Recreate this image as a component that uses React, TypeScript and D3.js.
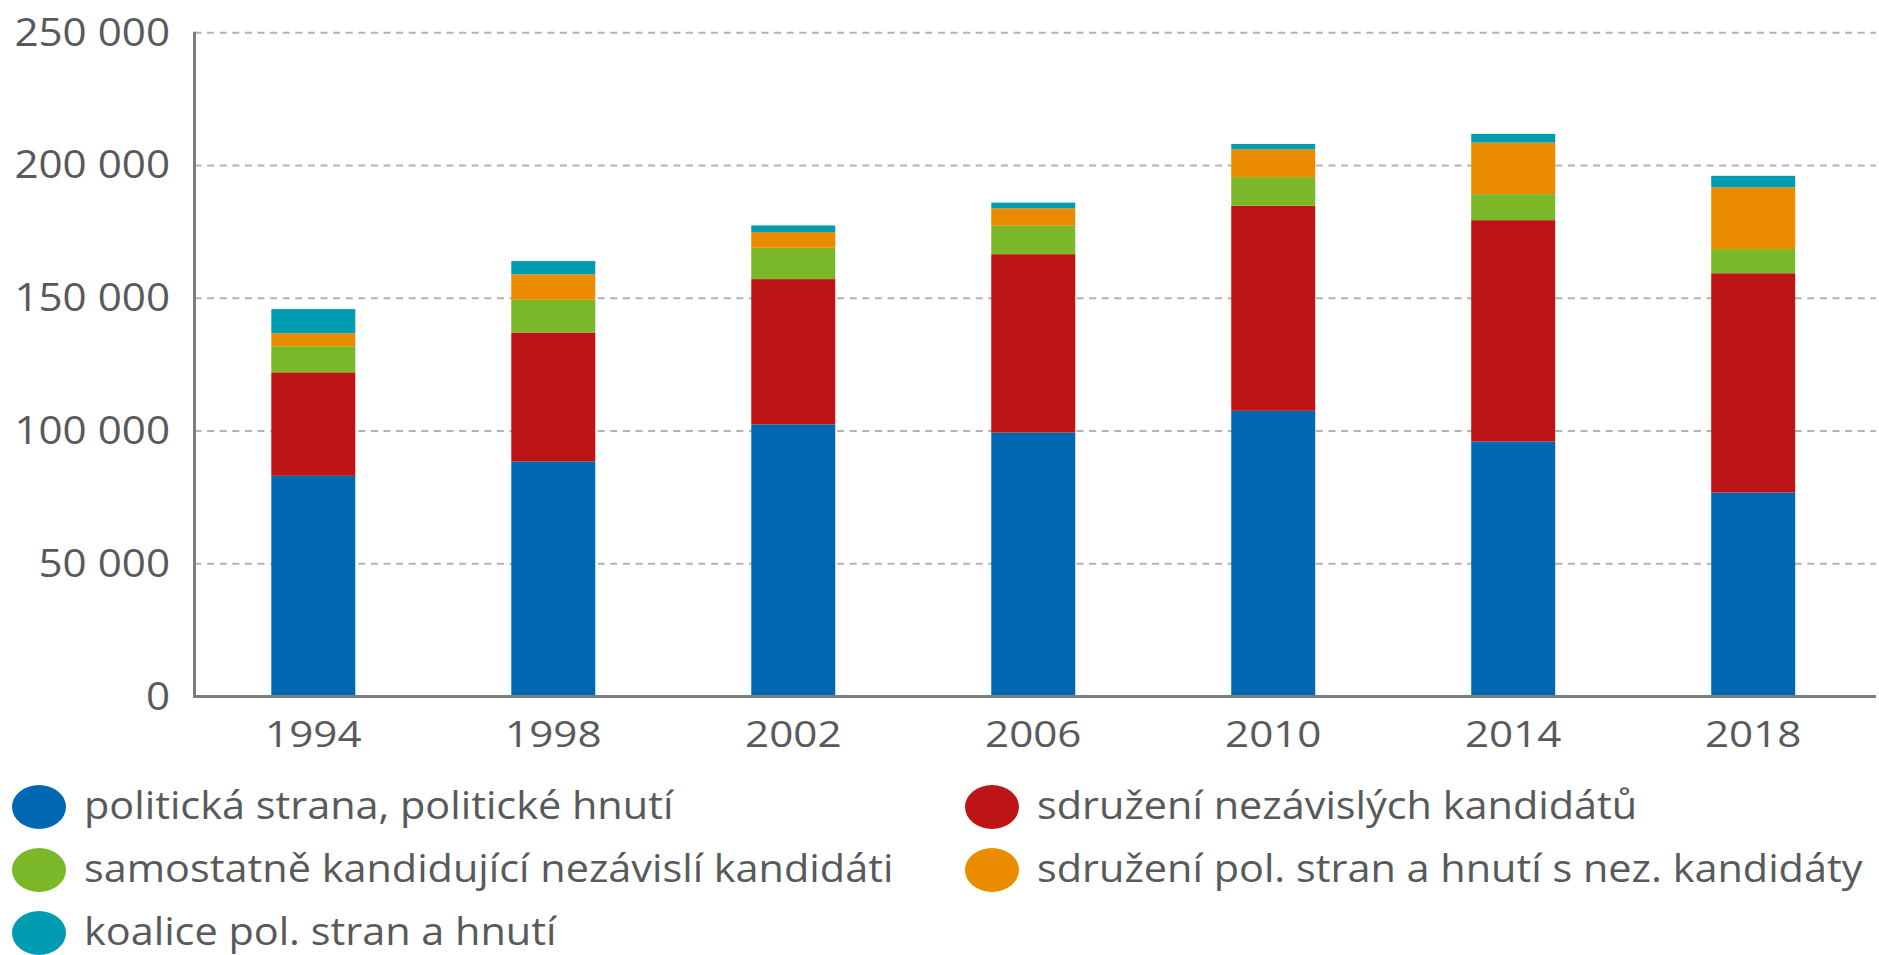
import { useEffect, useRef } from 'react';
import * as d3 from 'd3';

// election years
const years = ['1994', '1998', '2002', '2006', '2010', '2014', '2018'];

// candidates by type of electoral party (stack order bottom -> top)
const politickaStrana = [83100, 88500, 102500, 99400, 107600, 96000, 76800];
const sdruzeniNK = [39000, 48600, 54700, 67200, 77200, 83400, 82600];
const nezavisliKandidati = [9800, 12300, 11800, 10700, 10800, 9800, 9100];
const sdruzeniPolStranNK = [4900, 9600, 5900, 6600, 10500, 19400, 23300];
const koalice = [9100, 5000, 2500, 2100, 2000, 3300, 4300];

const seriesNames = [
  'politická strana, politické hnutí',
  'sdružení nezávislých kandidátů',
  'samostatně kandidující nezávislí kandidáti',
  'sdružení pol. stran a hnutí s nez. kandidáty',
  'koalice pol. stran a hnutí',
];
const seriesColors = ['#0068b3', '#bd1515', '#7ab829', '#ea8b00', '#009cb2'];

const yTicks = [0, 50000, 100000, 150000, 200000, 250000];

export default function App() {
  const ref = useRef<SVGSVGElement | null>(null);

  useEffect(() => {
    if (!ref.current) return;
    const svg = d3.select(ref.current);
    svg.selectAll('*').remove();

    const left = 194.5;
    const right = 1876;
    const top = 32.7;
    const bottom = 696.5;
    const textColor = '#58595b';
    const font = '"Open Sans", sans-serif';

    const allSeries = [politickaStrana, sdruzeniNK, nezavisliKandidati, sdruzeniPolStranNK, koalice];
    const rows = years.map((year, i) => {
      const row: any = { year };
      allSeries.forEach((s, k) => { row['s' + k] = s[i]; });
      return row;
    });
    const keys = allSeries.map((_, k) => 's' + k);
    const stacked = d3.stack().keys(keys)(rows);

    const x = d3.scaleBand()
      .domain(years)
      .range([left, right - 4])
      .paddingInner(0.65)
      .paddingOuter(0.32);

    const y = d3.scaleLinear()
      .domain([0, 250000])
      .range([bottom, top]);

    // gridlines
    svg.append('g')
      .selectAll('line')
      .data(yTicks.filter(t => t > 0))
      .enter()
      .append('line')
      .attr('x1', left)
      .attr('x2', right)
      .attr('y1', d => y(d))
      .attr('y2', d => y(d))
      .attr('stroke', '#b3b3b3')
      .attr('stroke-width', 2)
      .attr('stroke-dasharray', '7 5.6');

    // y tick labels (text in the source is slightly stretched horizontally)
    svg.append('g')
      .selectAll('text')
      .data(yTicks)
      .enter()
      .append('text')
      .attr('transform', d => `translate(170,${y(d) + 13}) scale(1.11,1)`)
      .attr('text-anchor', 'end')
      .style('font-family', font)
      .style('font-size', '38px')
      .style('fill', textColor)
      .text(d => d3.format(',')(d).replace(/,/g, ' '));

    // bars
    svg.append('g')
      .selectAll('g')
      .data(stacked)
      .enter()
      .append('g')
      .attr('fill', (_, i) => seriesColors[i])
      .selectAll('rect')
      .data(d => d)
      .enter()
      .append('rect')
      .attr('x', d => x((d.data as any).year) as number)
      .attr('width', x.bandwidth())
      .attr('y', d => y(d[1]))
      .attr('height', d => y(d[0]) - y(d[1]));

    // axes lines
    svg.append('line')
      .attr('x1', left).attr('x2', left)
      .attr('y1', top - 1).attr('y2', bottom)
      .attr('stroke', '#7d7d7d').attr('stroke-width', 3);
    svg.append('line')
      .attr('x1', left - 1.5).attr('x2', right)
      .attr('y1', bottom).attr('y2', bottom)
      .attr('stroke', '#7d7d7d').attr('stroke-width', 3);

    // x labels
    svg.append('g')
      .selectAll('text')
      .data(years)
      .enter()
      .append('text')
      .attr('transform', d => `translate(${(x(d) as number) + x.bandwidth() / 2},747) scale(1.14,1)`)
      .attr('text-anchor', 'middle')
      .style('font-family', font)
      .style('font-size', '37px')
      .style('fill', textColor)
      .text(d => d);

    // legend, two columns
    const legendPos = [
      { cx: 39, cy: 807 },
      { cx: 992, cy: 807 },
      { cx: 39, cy: 870 },
      { cx: 992, cy: 870 },
      { cx: 39, cy: 933 },
    ];
    const legend = svg.append('g')
      .selectAll('g')
      .data(seriesNames)
      .enter()
      .append('g')
      .attr('transform', (_, i) => `translate(${legendPos[i].cx},${legendPos[i].cy})`);
    legend.append('ellipse')
      .attr('rx', 27)
      .attr('ry', 22)
      .attr('fill', (_, i) => seriesColors[i]);
    legend.append('text')
      .attr('transform', 'translate(45,12) scale(1.09,1)')
      .style('font-family', font)
      .style('font-size', '38px')
      .style('fill', textColor)
      .text(d => d);
  }, []);

  return (
    <svg
      ref={ref}
      width={1879}
      height={955}
      style={{ position: 'absolute', left: 0, top: 0, background: '#fff' }}
    />
  );
}
